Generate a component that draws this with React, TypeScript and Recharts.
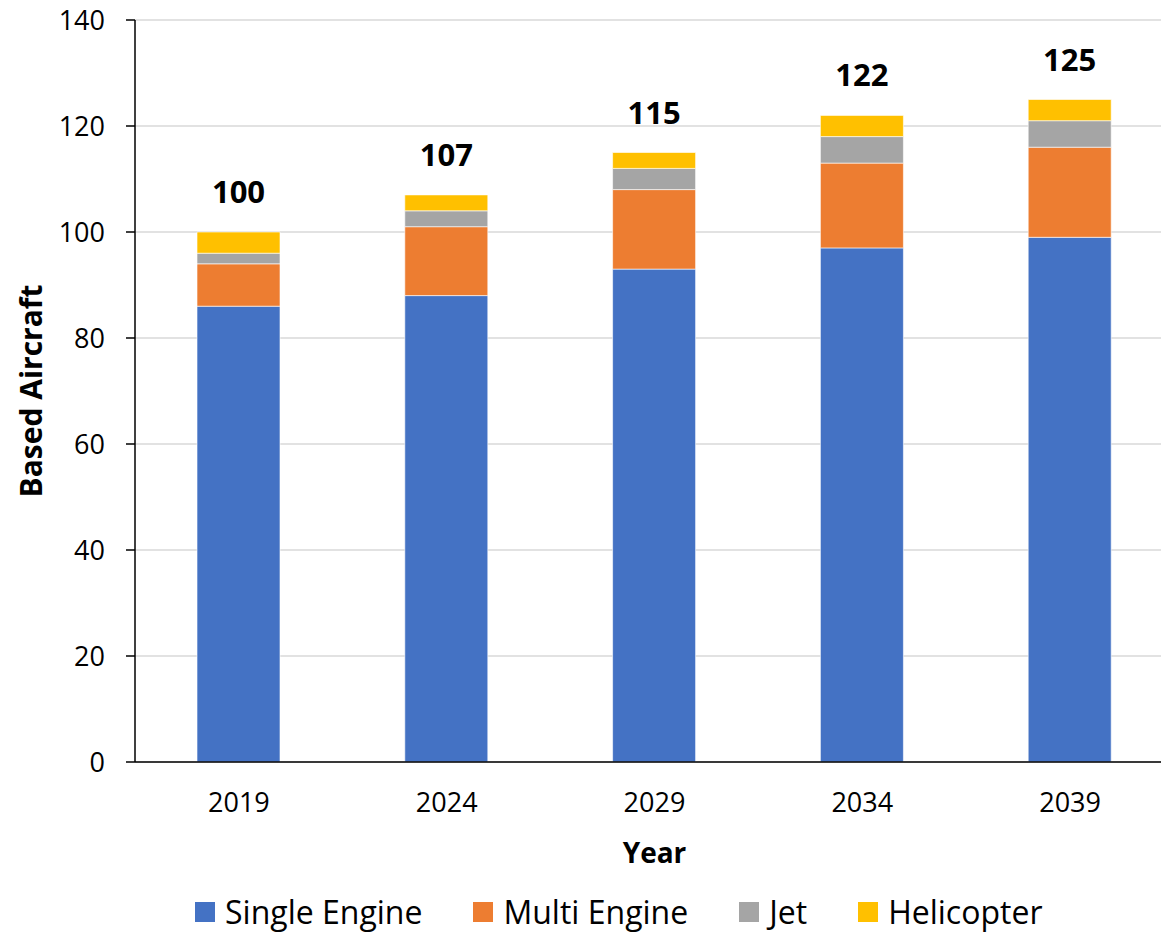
import React from 'react';
import { BarChart, Bar, XAxis, YAxis, CartesianGrid, Legend, LabelList } from 'recharts';

const years = ['2019', '2024', '2029', '2034', '2039'];
const singleEngine = [86, 88, 93, 97, 99];
const multiEngine = [8, 13, 15, 16, 17];
const jet = [2, 3, 4, 5, 5];
const helicopter = [4, 3, 3, 4, 4];
const yTicks = [0, 20, 40, 60, 80, 100, 120, 140];

const seriesInfo = [
  { key: 'single', name: 'Single Engine', color: '#4472C4' },
  { key: 'multi', name: 'Multi Engine', color: '#ED7D31' },
  { key: 'jet', name: 'Jet', color: '#A5A5A5' },
  { key: 'heli', name: 'Helicopter', color: '#FFC000' },
];

const data = years.map((y, i) => ({
  year: y,
  single: singleEngine[i],
  multi: multiEngine[i],
  jet: jet[i],
  heli: helicopter[i],
  total: singleEngine[i] + multiEngine[i] + jet[i] + helicopter[i],
}));

const FONT = '"Open Sans", sans-serif';

const renderLegend = () => (
  <div style={{ height: 44, display: 'flex', justifyContent: 'flex-start', alignItems: 'center', fontFamily: FONT, fontSize: 32, color: '#000', paddingLeft: 195, paddingBottom: 6, boxSizing: 'border-box' }}>
    {seriesInfo.map((s) => (
      <div key={s.key} style={{ display: 'flex', alignItems: 'center', marginRight: 51 }}>
        <span style={{ display: 'inline-block', width: 20, height: 20, background: s.color, marginRight: 10 }} />
        <span style={{ lineHeight: '38px' }}>{s.name}</span>
      </div>
    ))}
  </div>
);

const TotalLabel = (props: any) => {
  const { x, y, width, value } = props;
  return (
    <text x={x + width / 2} y={y - 29} textAnchor="middle" fontFamily={FONT} fontSize={31} fontWeight="bold" fill="#000">
      {value}
    </text>
  );
};

export default function App() {
  return (
    <div style={{ position: 'absolute', left: 0, top: 0, width: 1161, height: 937, overflow: 'hidden', background: '#fff' }}>
      <BarChart
        width={1180}
        height={937}
        data={data}
        margin={{ top: 20, right: 6, left: 0, bottom: 0 }}
        barSize={83}
      >
        <CartesianGrid vertical={false} stroke="#d9d9d9" strokeWidth={1.5} />
        <XAxis
          dataKey="year"
          axisLine={{ stroke: '#000', strokeWidth: 1.5 }}
          tickLine={false}
          tickSize={6}
          tickMargin={25}
          height={131}
          tick={{ fontFamily: FONT, fontSize: 27, fill: '#000' }}
          label={{
            content: (p: any) => {
              const vb = p.viewBox;
              return (
                <text x={vb.x + vb.width / 2} y={vb.y + 90} textAnchor="middle" dominantBaseline="central" fontFamily={FONT} fontSize={28} fontWeight="bold" fill="#000">
                  Year
                </text>
              );
            },
          }}
        />
        <YAxis
          width={135}
          domain={[0, 140]}
          ticks={yTicks}
          interval={0}
          axisLine={{ stroke: '#000', strokeWidth: 1.5 }}
          tickLine={{ stroke: '#000', strokeWidth: 1.5 }}
          tickSize={9}
          tickMargin={21}
          tick={{ fontFamily: FONT, fontSize: 27, fill: '#000' }}
          label={{
            content: (p: any) => {
              const vb = p.viewBox;
              const cx = vb.x + 30;
              const cy = vb.y + vb.height / 2;
              return (
                <text x={cx} y={cy} transform={`rotate(-90, ${cx}, ${cy})`} textAnchor="middle" dominantBaseline="central" fontFamily={FONT} fontSize={30} fontWeight="bold" fill="#000">
                  Based Aircraft
                </text>
              );
            },
          }}
        />
        <Legend verticalAlign="bottom" content={renderLegend} wrapperStyle={{ left: 0, width: 1180 }} />
        {seriesInfo.map((s) => (
          <Bar
            key={s.key}
            dataKey={s.key}
            name={s.name}
            stackId="a"
            fill={s.color}
            stroke="#ffffff"
            strokeOpacity={0.6}
            strokeWidth={1}
            isAnimationActive={false}
          >
            {s.key === 'heli' ? <LabelList dataKey="total" content={TotalLabel} /> : null}
          </Bar>
        ))}
      </BarChart>
    </div>
  );
}
